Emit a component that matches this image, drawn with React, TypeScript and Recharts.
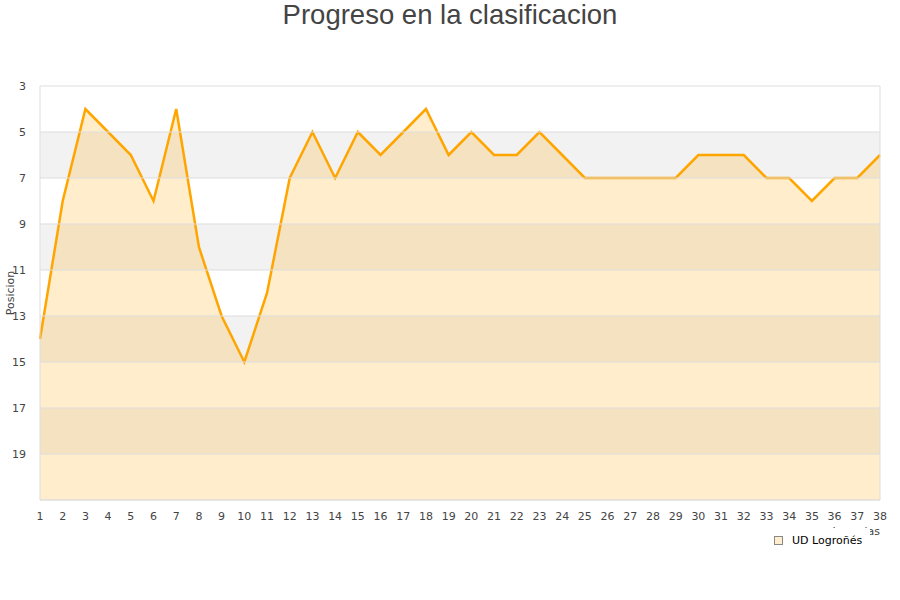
import React from "react";
import {
  AreaChart,
  Area,
  XAxis,
  YAxis,
  ReferenceArea,
  ReferenceLine,
} from "recharts";

const jornadas: number[] = Array.from({ length: 38 }, (_, i) => i + 1);
const posiciones: number[] = [
  14, 8, 4, 5, 6, 8, 4, 10, 13, 15, 12, 7, 5, 7, 5, 6, 5, 4, 6, 5, 6, 6, 5, 6, 7, 7, 7, 7, 7, 6, 6, 6, 7, 7, 8, 7, 7, 6,
];
const yTicks: number[] = [3, 5, 7, 9, 11, 13, 15, 17, 19];
const gridLines: number[] = [3, 5, 7, 9, 11, 13, 15, 17, 19, 21];
const grayBands: [number, number][] = [
  [5, 7],
  [9, 11],
  [13, 15],
  [17, 19],
];
const seriesName = "UD Logroñés";
const title = "Progreso en la clasificacion";
const xLabel = "Jornadas";
const yLabel = "Posicion";

const data = jornadas.map((j, i) => ({ jornada: j, pos: posiciones[i] }));

const FONT = "'DejaVu Sans', sans-serif";

export default function App() {
  return (
    <div style={{ position: "absolute", left: 0, top: 0, width: 900, height: 600, background: "#fff" }}>
      <div
        style={{
          position: "absolute",
          left: 0,
          top: -2,
          width: 900,
          textAlign: "center",
          fontFamily: "'Liberation Sans', Arial, sans-serif",
          fontSize: 27.5,
          color: "#444",
          lineHeight: "34px",
        }}
      >
        {title}
      </div>
      <AreaChart
        width={900}
        height={600}
        data={data}
        margin={{ top: 86, right: 20, bottom: 70, left: 0 }}
      >
        {grayBands.map(([a, b]) => (
          <ReferenceArea key={a} y1={a} y2={b} fill="#f2f2f2" fillOpacity={1} stroke="none" />
        ))}
        {gridLines.map((g) => (
          <ReferenceLine key={g} y={g} stroke="#dddddd" strokeWidth={1} />
        ))}
        <XAxis
          dataKey="jornada"
          type="number"
          domain={[1, 38]}
          ticks={jornadas}
          interval={0}
          tickLine={false}
          axisLine={{ stroke: "#dddddd" }}
          height={30}
          tick={{ fontSize: 11, fill: "#444", fontFamily: FONT }}
          tickMargin={6}
        />
        <YAxis
          reversed
          type="number"
          domain={[3, 21]}
          ticks={yTicks}
          interval={0}
          width={40}
          tickLine={false}
          axisLine={{ stroke: "#dddddd" }}
          tickMargin={8}
          tick={{ fontSize: 11, fill: "#444", fontFamily: FONT }}
          label={{
            value: yLabel,
            angle: -90,
            position: "insideLeft",
            offset: 10,
            style: { fontSize: 11, fill: "#444", fontFamily: FONT, textAnchor: "middle" },
          }}
        />
        <ReferenceLine x={38} stroke="#dddddd" strokeWidth={1} />
        <Area
          type="linear"
          dataKey="pos"
          name={seriesName}
          stroke="#ffa500"
          strokeWidth={2.5}
          fill="#ffa500"
          fillOpacity={0.2}
          baseValue={21}
          dot={false}
          activeDot={false}
          isAnimationActive={false}
        />
      </AreaChart>
      <div
        style={{
          position: "absolute",
          left: 700,
          top: 525,
          width: 180,
          textAlign: "right",
          fontFamily: FONT,
          fontSize: 11,
          color: "#444",
          lineHeight: "14px",
        }}
      >
        {xLabel}
      </div>
      <div
        style={{
          position: "absolute",
          left: 766,
          top: 528,
          width: 104,
          height: 24,
          background: "#fff",
          display: "flex",
          alignItems: "center",
          fontFamily: FONT,
          fontSize: 11,
          color: "#000",
          boxSizing: "border-box",
          paddingLeft: 8,
        }}
      >
        <span
          style={{
            display: "inline-block",
            width: 7,
            height: 7,
            border: "1px solid #888",
            background: "#ffedcc",
            marginRight: 9,
          }}
        />
        <span>{seriesName}</span>
      </div>
    </div>
  );
}
